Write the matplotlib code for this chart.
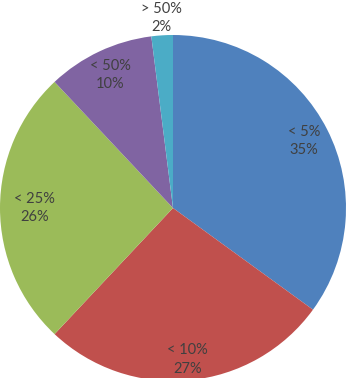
import numpy as np
import matplotlib.pyplot as plt

# slices, clockwise from 12 o'clock
labels = ['< 5%', '< 10%', '< 25%', '< 50%', '> 50%']
values = [35, 27, 26, 10, 2]
colors = ['#4F81BD', '#C0504D', '#9BBB59', '#8064A2', '#4BACC6']
label_dist = [0.85, 0.88, 0.80, 0.85, 1.10]

fig = plt.figure(figsize=(3.48, 3.78), dpi=100)
ax = fig.add_axes([0.0, -3 / 378, 346 / 348, 346 / 378])

wedges, _ = ax.pie(values, colors=colors, startangle=90, counterclock=False,
                   radius=1.0, wedgeprops=dict(linewidth=0))

# label each slice at its middle angle
for w, lab, v, d in zip(wedges, labels, values, label_dist):
    ang = np.deg2rad((w.theta1 + w.theta2) / 2)
    ax.text(d * np.cos(ang), d * np.sin(ang), f'{lab}\n{v}%',
            ha='center', va='center', fontsize=10.5, color='#404040',
            family='Lato', linespacing=1.4)

ax.set_xlim(-1, 1)
ax.set_ylim(-1, 1)
ax.set_aspect('equal')
ax.axis('off')

fig.savefig('out.png', dpi=100)
